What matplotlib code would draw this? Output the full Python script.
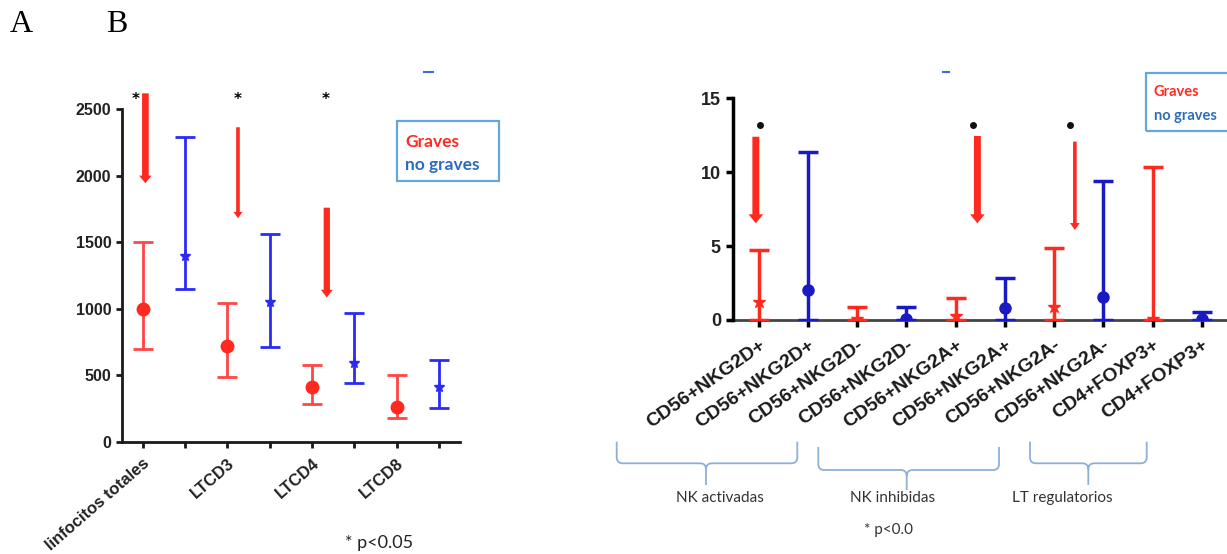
import matplotlib
matplotlib.use("Agg")
import matplotlib.pyplot as plt
from matplotlib.patches import FancyArrowPatch, PathPatch, Rectangle
from matplotlib.path import Path
from matplotlib.lines import Line2D

# ---------------- data, panel A ----------------
labels_a = ["linfocitos totales", "LTCD3", "LTCD4", "LTCD8"]
graves_a_mid = [1000, 720, 410, 260]
graves_a_low = [700, 490, 285, 175]
graves_a_high = [1500, 1045, 575, 505]
nograves_a_mid = [1400, 1050, 590, 410]
nograves_a_low = [1150, 715, 445, 255]
nograves_a_high = [2290, 1560, 965, 615]
# down arrows and significance marks
arrow_a_x = [0.06, 2.25, 4.35]
arrow_a_top = [2620, 2365, 1760]
arrow_a_tip = [1944, 1681, 1085]
star_a_x = [-0.18, 2.25, 4.33]
star_a_y = [2605, 2605, 2605]

# ---------------- data, panel B ----------------
labels_b = ["CD56+NKG2D+", "CD56+NKG2D+", "CD56+NKG2D-", "CD56+NKG2D-",
            "CD56+NKG2A+", "CD56+NKG2A+", "CD56+NKG2A-", "CD56+NKG2A-",
            "CD4+FOXP3+", "CD4+FOXP3+"]
graves_b_mid = [1.25, 0.1, 0.3, 0.9, 0.1]
graves_b_low = [0, 0, 0, 0, 0]
graves_b_high = [4.75, 0.85, 1.47, 4.9, 10.37]
nograves_b_mid = [2.03, 0.05, 0.78, 1.58, 0.05]
nograves_b_low = [0, 0, 0, 0, 0]
nograves_b_high = [11.39, 0.85, 2.82, 9.4, 0.52]
arrow_b_x = [-0.06, 4.44, 6.42]
arrow_b_top = [12.4, 12.45, 12.07]
arrow_b_tip = [6.54, 6.54, 6.09]
dot_b_x = [0.02, 4.36, 6.32]
dot_b_y = [13.2, 13.2, 13.2]

groups_b = ["NK activadas", "NK inhibidas", "LT regulatorios"]

RED = "#ff2a1f"
RED_LIGHT = "#ff4545"
BLUE_A = "#2b2bf5"
BLUE_B = "#1a1ac4"
LEG_BLUE = "#2a6dbd"
W, H = 1227, 554

fig = plt.figure(figsize=(W / 100, H / 100), dpi=100)


def fx(px):
    return px / W


def fy(py):
    return 1 - py / H


def err(mid, low, high):
    return [[m - l for m, l in zip(mid, low)], [h - m for m, h in zip(mid, high)]]


def draw_arrow(ax, x, y0, y1, tail, head_w, head_l):
    arr = FancyArrowPatch((x, y0), (x, y1), transform=ax.transData,
                          arrowstyle=f"simple,head_width={head_w},head_length={head_l},tail_width={tail}",
                          mutation_scale=1, color=RED, shrinkA=0, shrinkB=0, clip_on=False, lw=0)
    ax.add_patch(arr)


# ================= panel A =================
ax = fig.add_axes([fx(121.7), fy(441.7), fx(460 - 121.7), (441.7 - 109.3) / H])
xa_red = [0, 2, 4, 6]
xa_blue = [1, 3, 5, 7]
ax.errorbar(xa_red, graves_a_mid, yerr=err(graves_a_mid, graves_a_low, graves_a_high),
            fmt="o", color=RED_LIGHT, ms=9, mfc=RED, mec=RED, elinewidth=2, capsize=7, capthick=2)
ax.errorbar(xa_blue, nograves_a_mid, yerr=err(nograves_a_mid, nograves_a_low, nograves_a_high),
            fmt="*", color=BLUE_A, ms=8, elinewidth=2, capsize=7, capthick=2)
ax.set_xlim(-0.5, 7.5)
ax.set_ylim(0, 2500)
ax.set_yticks([0, 500, 1000, 1500, 2000, 2500])
ax.set_xticks(range(8))
ax.set_xticklabels([labels_a[i // 2] if i % 2 == 0 else "" for i in range(8)],
                   rotation=41, ha="right", rotation_mode="anchor")
for s in ["top", "right"]:
    ax.spines[s].set_visible(False)
for s in ["left", "bottom"]:
    ax.spines[s].set_linewidth(2)
    ax.spines[s].set_color("#1a1a1a")
ax.tick_params(axis="both", length=4, width=2, color="#1a1a1a")
ax.tick_params(axis="x", pad=6)
for t in ax.get_yticklabels():
    t.set_fontsize(11.5)
    t.set_fontweight("bold")
    t.set_color("#222222")
    t.set_family("Liberation Sans")
for t in ax.get_xticklabels():
    t.set_fontsize(12)
    t.set_fontweight("bold")
    t.set_color("#222222")
    t.set_family("Liberation Sans")

# thick arrows, widths per arrow
a_styles = [(4.8, 9, 5.5), (2.6, 6.5, 4.5), (4.5, 8.5, 5.5)]
for x, y0, y1, st in zip(arrow_a_x, arrow_a_top, arrow_a_tip, a_styles):
    draw_arrow(ax, x, y0, y1, *st)
for x, y in zip(star_a_x, star_a_y):
    ax.annotate("*", (x, y), xytext=(0, -6), textcoords="offset points", ha="center",
                va="baseline", fontsize=11, fontweight="bold", annotation_clip=False,
                family="DejaVu Sans")

# legend box A
fig.add_artist(Rectangle((fx(396.7), fy(181)), fx(499.3 - 396.7), (181 - 120.7) / H,
                         transform=fig.transFigure, fill=False, ec="#62a8dc", lw=1.6))
fig.text(fx(405), fy(141.7), "Graves", color=RED, fontsize=12.5, fontweight="bold",
         family="Lato", va="center")
fig.text(fx(405), fy(165), "no graves", color=LEG_BLUE, fontsize=12.5, fontweight="bold",
         family="Lato", va="center")
fig.text(fx(345), fy(543), "* p<0.05", fontsize=13, color="#222222", family="Lato", va="center")

# ================= panel B =================
bx = fig.add_axes([fx(732.7), fy(320), 1 - fx(732.7), (320 - 98.3) / H])
xb_red = [0, 2, 4, 6, 8]
xb_blue = [1, 3, 5, 7, 9]
bx.errorbar(xb_red, graves_b_mid, yerr=err(graves_b_mid, graves_b_low, graves_b_high),
            fmt="*", color=RED, ms=9, elinewidth=2.5, capsize=7, capthick=2.5, zorder=3)
bx.errorbar(xb_blue, nograves_b_mid, yerr=err(nograves_b_mid, nograves_b_low, nograves_b_high),
            fmt="o", color=BLUE_B, ms=8, elinewidth=2.5, capsize=7, capthick=2.5, zorder=3)
bx.set_xlim(-0.53, 9.51)
bx.set_ylim(0, 15)
bx.set_yticks([0, 5, 10, 15])
bx.set_xticks(range(10))
bx.set_xticklabels(labels_b, rotation=35, ha="right", rotation_mode="anchor")
for s in ["top", "right"]:
    bx.spines[s].set_visible(False)
bx.spines["left"].set_linewidth(2.5)
bx.spines["left"].set_color("black")
bx.spines["bottom"].set_linewidth(2)
bx.spines["bottom"].set_color("#444444")
bx.spines["bottom"].set_zorder(2)
bx.tick_params(axis="both", length=5, width=2.5, color="black")
bx.tick_params(axis="x", pad=7)
for t in bx.get_yticklabels():
    t.set_fontsize(13)
    t.set_fontweight("bold")
    t.set_color("#222222")
    t.set_family("Liberation Sans")
for t in bx.get_xticklabels():
    t.set_fontsize(14)
    t.set_fontweight("bold")
    t.set_color("#1a1a1a")
    t.set_family("Liberation Sans")

b_styles = [(5, 10.5, 6.5), (5, 10.5, 6.5), (2.6, 7, 5)]
for x, y0, y1, st in zip(arrow_b_x, arrow_b_top, arrow_b_tip, b_styles):
    draw_arrow(bx, x, y0, y1, *st)
bx.plot(dot_b_x, dot_b_y, "o", color="#111111", ms=4, clip_on=False)

# legend box B (runs off the right edge)
fig.add_artist(Rectangle((fx(1146), fy(130.7)), fx(1240 - 1146), (130.7 - 73.3) / H,
                         transform=fig.transFigure, fill=False, ec="#62a8dc", lw=1.6))
fig.text(fx(1154), fy(92), "Graves", color=RED, fontsize=10.5, fontweight="bold",
         family="Lato", va="center")
fig.text(fx(1154), fy(116), "no graves", color=LEG_BLUE, fontsize=10.5, fontweight="bold",
         family="Lato", va="center")


# curly brackets under the labels
def brace(x0, x1, xm, ytop, yline, ybot, r=6):
    verts = [(x0, ytop), (x0, yline - r), (x0, yline), (x0 + r, yline),
             (xm - r, yline), (xm, yline), (xm, yline + r), (xm, ybot),
             (xm, yline + r), (xm, yline), (xm + r, yline),
             (x1 - r, yline), (x1, yline), (x1, yline - r), (x1, ytop)]
    codes = [Path.MOVETO, Path.LINETO, Path.CURVE3, Path.CURVE3,
             Path.LINETO, Path.CURVE3, Path.CURVE3, Path.LINETO,
             Path.MOVETO, Path.CURVE3, Path.CURVE3,
             Path.LINETO, Path.CURVE3, Path.CURVE3, Path.LINETO]
    verts = [(fx(x), fy(y)) for x, y in verts]
    fig.add_artist(PathPatch(Path(verts, codes), transform=fig.transFigure,
                             fill=False, ec="#8db0d9", lw=1.3))


brace(616.7, 797.3, 706, 441.7, 463.3, 485)
brace(818.3, 999, 906.7, 447, 470, 490)
brace(1030, 1146.7, 1088.3, 441.7, 463.3, 485)

for name, cx in zip(groups_b, [720, 893, 1062.5]):
    fig.text(fx(cx), fy(498), name, ha="center", va="center", fontsize=11,
             color="#333333", family="Lato")
fig.text(fx(888), fy(530), "* p<0.0", ha="center", va="center", fontsize=11,
         color="#333333", family="Lato")

# panel letters
fig.text(fx(10), fy(25), "A", fontsize=23, family="Liberation Serif", va="center")
fig.text(fx(106), fy(25), "B", fontsize=23, family="Liberation Serif", va="center")

# small cropped remnants at the top of each panel
fig.add_artist(Line2D([fx(424), fx(433)], [fy(72), fy(72)], color="#3a6fd8", lw=1.5))
fig.add_artist(Line2D([fx(943), fx(949)], [fy(72), fy(72)], color="#3a6fd8", lw=1.5))

fig.savefig("out.png", dpi=100)
